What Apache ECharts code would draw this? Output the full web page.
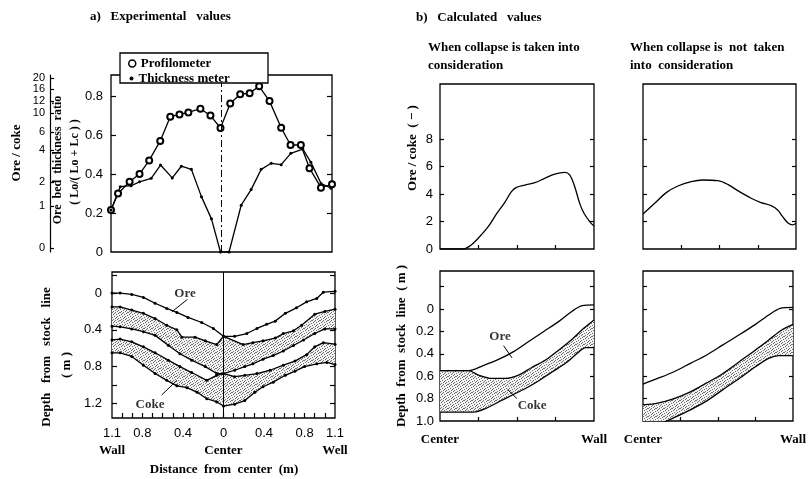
<!DOCTYPE html>
<html><head><meta charset="utf-8">
<script src="https://cdn.jsdelivr.net/npm/echarts@6/dist/echarts.min.js"></script>
<style>html,body{margin:0;padding:0;background:#fff}#c{width:809px;height:479px}</style>
</head><body><div id="c"></div>
<script>
// ---------- a) Experimental values : top panel ----------
const profX = [-1.10,-1.03,-0.915,-0.816,-0.72,-0.61,-0.51,-0.418,-0.33,-0.21,-0.11,-0.01,0.087,0.186,0.28,0.375,0.478,0.594,0.687,0.79,0.876,0.99,1.10];
const profY = [0.215,0.30,0.36,0.40,0.47,0.57,0.694,0.706,0.716,0.735,0.70,0.636,0.762,0.809,0.815,0.85,0.774,0.637,0.549,0.549,0.43,0.33,0.347];
const thickX = [-1.10,-1.008,-0.90,-0.816,-0.70,-0.607,-0.49,-0.40,-0.30,-0.20,-0.10,-0.01,0.075,0.196,0.295,0.395,0.495,0.594,0.69,0.81,0.89,0.99,1.09];
const thickY = [0.215,0.335,0.34,0.36,0.378,0.446,0.38,0.44,0.424,0.284,0.17,0.0,0.0,0.24,0.32,0.424,0.455,0.448,0.506,0.528,0.46,0.352,0.327];
const ratioTicks = [0, 0.2, 0.4, 0.6, 0.8];
const oreCokeTicks = [0, 1, 2, 4, 6, 10, 12, 16, 20];
const oreCokePos = [0.02, 0.236, 0.359, 0.523, 0.615, 0.713, 0.775, 0.836, 0.892];

// ---------- a) Experimental values : burden layers ----------
const L1x = [-1.10,-1.02,-0.905,-0.79,-0.675,-0.56,-0.46,-0.35,-0.215,-0.10,0.0,0.11,0.23,0.33,0.425,0.51,0.61,0.72,0.82,0.92,0.985,1.10];
const L1y = [0.0,0.0,0.014,0.047,0.11,0.167,0.21,0.265,0.32,0.385,0.47,0.47,0.44,0.385,0.34,0.305,0.22,0.16,0.095,0.058,-0.01,-0.02];
const L2x = [-1.10,-1.02,-0.905,-0.79,-0.675,-0.56,-0.46,-0.41,-0.28,-0.18,-0.067,0.0,0.195,0.29,0.39,0.51,0.59,0.69,0.77,0.90,1.0,1.10];
const L2y = [0.15,0.15,0.185,0.22,0.277,0.35,0.40,0.48,0.48,0.52,0.56,0.47,0.56,0.54,0.52,0.49,0.44,0.41,0.35,0.23,0.20,0.175];
const L3x = [-1.10,-1.02,-0.905,-0.79,-0.675,-0.545,-0.43,-0.314,-0.18,-0.067,0.0,0.11,0.21,0.29,0.39,0.49,0.59,0.69,0.79,0.90,1.0,1.10];
const L3y = [0.36,0.367,0.39,0.42,0.46,0.567,0.66,0.73,0.80,0.876,0.876,0.84,0.80,0.77,0.72,0.68,0.63,0.57,0.51,0.44,0.39,0.39];
const L4x = [-1.10,-1.02,-0.905,-0.79,-0.675,-0.545,-0.43,-0.314,-0.165,-0.067,0.0,0.11,0.21,0.33,0.46,0.59,0.705,0.82,0.90,0.985,1.10];
const L4y = [0.51,0.50,0.53,0.585,0.65,0.73,0.80,0.865,0.95,0.895,0.876,0.91,0.895,0.876,0.84,0.785,0.74,0.67,0.585,0.54,0.556];
const L5x = [-1.10,-1.02,-0.905,-0.79,-0.675,-0.56,-0.46,-0.36,-0.26,-0.165,-0.067,0.0,0.11,0.21,0.31,0.39,0.49,0.61,0.705,0.80,0.92,1.02,1.10];
const L5y = [0.65,0.65,0.69,0.785,0.876,0.95,1.01,1.03,1.08,1.15,1.185,1.23,1.21,1.17,1.08,1.02,0.97,0.895,0.85,0.80,0.77,0.755,0.778];
const distLabels = [-1.1, -0.8, -0.4, 0, 0.4, 0.8, 1.1];
const depthLabelsA = [0, 0.4, 0.8, 1.2];

// ---------- b) Calculated values : ore/coke ----------
const colOCx = [0,0.151,0.194,0.248,0.313,0.367,0.421,0.464,0.497,0.551,0.616,0.68,0.745,0.81,0.843,0.875,0.907,0.935,0.972,1.0];
const colOCy = [0,0,0.22,0.78,1.62,2.55,3.39,4.17,4.48,4.65,4.82,5.14,5.45,5.58,5.38,4.53,3.32,2.6,1.99,1.67];
const nocOCx = [0,0.076,0.152,0.228,0.315,0.39,0.49,0.554,0.63,0.707,0.772,0.837,0.88,0.913,0.946,0.978,1.0];
const nocOCy = [2.55,3.32,4.1,4.58,4.9,5.02,4.97,4.7,4.17,3.69,3.37,3.15,2.84,2.35,1.91,1.75,1.87];
const ocLabels = [0, 2, 4, 6, 8];

// ---------- b) Calculated values : layers ----------
const cAx = [0,0.185,0.28,0.38,0.478,0.576,0.674,0.772,0.86,0.924,1.0];
const cAy = [0.55,0.55,0.505,0.45,0.38,0.29,0.20,0.11,0.017,-0.03,-0.037];
const cBx = [0,0.185,0.25,0.337,0.424,0.51,0.598,0.685,0.772,0.86,0.935,1.0];
const cBy = [0.55,0.55,0.59,0.62,0.62,0.59,0.52,0.455,0.365,0.267,0.17,0.097];
const cCx = [0,0.217,0.294,0.38,0.467,0.555,0.642,0.73,0.815,0.892,0.946,1.0];
const cCy = [0.92,0.92,0.89,0.83,0.77,0.71,0.64,0.56,0.485,0.395,0.345,0.345];
const nAx = [0,0.098,0.207,0.316,0.425,0.533,0.642,0.75,0.838,0.914,1.0];
const nAy = [0.67,0.62,0.56,0.485,0.41,0.32,0.23,0.137,0.053,-0.006,-0.015];
const nBx = [0,0.098,0.207,0.316,0.425,0.533,0.642,0.75,0.838,0.925,1.0];
const nBy = [0.856,0.84,0.80,0.74,0.66,0.575,0.47,0.365,0.276,0.187,0.136];
const nCx = [0,0.1,0.207,0.316,0.425,0.533,0.642,0.75,0.838,0.904,1.0];
const nCy = [1.1,1.035,0.97,0.90,0.82,0.72,0.62,0.515,0.44,0.416,0.416];
const depthLabelsB = [0, 0.2, 0.4, 0.6, 0.8, 1.0];

// annotation anchors (data coordinates)
const oreNoteA = {text:'Ore', at:[-0.38, 0.01], lead:[[-0.357,0.069],[-0.51,0.204]]};
const cokeNoteA = {text:'Coke', at:[-0.725, 1.21], lead:[[-0.61,1.11],[-0.46,0.95]]};
const oreNoteB = {text:'Ore', at:[0.39, 0.25], lead:[[0.413,0.327],[0.468,0.437]]};
const cokeNoteB = {text:'Coke', at:[0.598, 0.86], lead:[[0.44,0.72],[0.50,0.80]]};

const SERIF = "'Liberation Serif','DejaVu Serif',serif";
const NUM = "'Liberation Sans Narrow','Liberation Sans',Arial,sans-serif";
const pairs = (xs, ys) => xs.map((x, i) => [x, ys[i]]);

// stipple pattern (irregular fine dots)
const cv = document.createElement('canvas'); cv.width = 8; cv.height = 8;
const cx = cv.getContext('2d');
cx.fillStyle = '#f2f2f2'; cx.fillRect(0,0,8,8);
cx.fillStyle = '#707070';
[[0,0],[3,0],[6,1],[1,2],[4,2],[7,3],[2,4],[5,4],[0,5],[3,6],[6,6],[1,7],[5,7],[7,0],[2,1],[4,5]]
  .forEach(p => cx.fillRect(p[0],p[1],1,1));
const stipple = {image: cv, repeat: 'repeat'};

function axis(gridIndex, min, max, o) {
  o = o || {};
  return {
    type: 'value', gridIndex, min, max, inverse: !!o.inverse, position: o.position,
    splitLine: {show: false},
    axisLine: {show: !!o.line, onZero: false, lineStyle: {color: '#000', width: 1.2}},
    axisTick: {show: !!o.ticks, inside: true, length: o.tickLen || 5, customValues: o.ticks, lineStyle: {color: '#000', width: 1.2}},
    axisLabel: {show: !!o.labels, customValues: o.labels, formatter: o.fmt, margin: o.margin || 8, color: '#000',
      hideOverlap: false, showMinLabel: true, showMaxLabel: true,
      fontFamily: NUM, fontSize: o.fs || 13, lineHeight: o.lh, rich: o.rich}
  };
}
const gridBox = (left, top, width, height) => ({left, top, width, height, show: true, borderColor: '#000', borderWidth: 1.3, backgroundColor: 'transparent'});
const dec1 = v => v === 0 ? '0' : v.toFixed(1);
const boldRich = {b: {fontFamily: SERIF, fontWeight: 'bold', fontSize: 13, color: '#000'}};

const distTicks = []; for (let i = -10; i <= 10; i++) distTicks.push(i / 10);

function lineS(name, xi, yi, xs, ys, extra) {
  return Object.assign({
    name, type: 'line', xAxisIndex: xi, yAxisIndex: yi, data: pairs(xs, ys),
    symbol: 'none', lineStyle: {color: '#000', width: 1.3}, itemStyle: {color: '#000'}, z: 3, animation: false
  }, extra || {});
}
function band(xi, yi, up, lo) {
  return {type: 'custom', xAxisIndex: xi, yAxisIndex: yi, clip: true, silent: true, z: 1, animation: false,
    data: [[0.5, 0.5]],
    renderItem: (p, api) => {
      const pts = up.map(q => api.coord(q)).concat(lo.slice().reverse().map(q => api.coord(q)));
      return {type: 'polygon', shape: {points: pts}, style: {fill: stipple, stroke: null}};
    }};
}
function note(xi, yi, n) {
  return [
    {type: 'line', xAxisIndex: xi, yAxisIndex: yi, data: n.lead, symbol: 'none', silent: true, animation: false,
      lineStyle: {color: '#000', width: 1}, z: 4},
    {type: 'scatter', xAxisIndex: xi, yAxisIndex: yi, data: [n.at], symbolSize: 0, silent: true, animation: false, z: 5,
      label: {show: true, position: 'inside', formatter: n.text, color: '#000', fontFamily: SERIF, fontWeight: 'bold', fontSize: 13}}
  ];
}

const grids = [
  gridBox(111, 75, 221, 177),
  gridBox(112, 272, 223, 146),
  gridBox(440, 84, 154, 165),
  gridBox(643, 84, 153, 165),
  gridBox(440, 271, 154, 150),
  gridBox(643, 271, 153, 150),
  {left: 50, top: 75, width: 1, height: 177, show: false}
];
const quarter = [0.25, 0.5, 0.75];
const xAxes = [
  axis(0, -1.1, 1.1, {}),
  axis(1, -1.1, 1.1, {ticks: distTicks, labels: distLabels, margin: 7, lh: 17, rich: boldRich,
    fmt: v => { const n = Math.abs(v) < 1e-9 ? '0' : Math.abs(v).toFixed(1);
      const w = v < -1.05 ? 'Wall' : (Math.abs(v) < 1e-9 ? 'Center' : (v > 1.05 ? 'Well' : ''));
      return w ? n + '\n{b|' + w + '}' : n; }}),
  axis(2, 0, 1, {ticks: quarter, tickLen: 4}),
  axis(3, 0, 1, {ticks: quarter, tickLen: 4}),
  axis(4, 0, 1, {ticks: quarter, tickLen: 4, labels: [0, 1], margin: 12, rich: boldRich, fmt: v => v === 0 ? '{b|Center}' : '{b|Wall}'}),
  axis(5, 0, 1, {ticks: quarter, tickLen: 4, labels: [0, 1], margin: 12, rich: boldRich, fmt: v => v === 0 ? '{b|Center}' : '{b|Wall}'}),
  Object.assign(axis(6, 0, 1, {}), {show: false})
];
const dTicksA = [-0.2, 0, 0.2, 0.4, 0.6, 0.8, 1.0, 1.2];
const dTicksB = [-0.2, 0, 0.2, 0.4, 0.6, 0.8];
const yAxes = [
  axis(0, 0, 0.908, {position: 'left', ticks: [0.2, 0.4, 0.6, 0.8], labels: ratioTicks, fmt: dec1}),
  axis(0, 0, 0.908, {position: 'right', ticks: [0.2, 0.4, 0.6, 0.8]}),
  axis(6, 0, 0.908, {position: 'left', line: true, ticks: oreCokePos, tickLen: 4, labels: oreCokePos, margin: 5, fs: 11, lh: 11,
    fmt: v => { let bi = 0; oreCokePos.forEach((p, i) => { if (Math.abs(p - v) < Math.abs(oreCokePos[bi] - v)) bi = i; }); return String(oreCokeTicks[bi]); }}),
  axis(1, -0.23, 1.36, {inverse: true, position: 'left', ticks: dTicksA, labels: depthLabelsA, fmt: dec1, margin: 10}),
  axis(1, -0.23, 1.36, {inverse: true, position: 'right', ticks: dTicksA}),
  axis(2, 0, 12, {position: 'left', ticks: [2, 4, 6, 8], tickLen: 4, labels: ocLabels, margin: 7}),
  axis(2, 0, 12, {position: 'right', ticks: [2, 4, 6, 8], tickLen: 4}),
  axis(3, 0, 12, {position: 'left', ticks: [2, 4, 6, 8], tickLen: 4}),
  axis(3, 0, 12, {position: 'right', ticks: [2, 4, 6, 8], tickLen: 4}),
  axis(4, -0.34, 1.0, {inverse: true, position: 'left', ticks: dTicksB, tickLen: 4, labels: depthLabelsB, fmt: dec1, margin: 6}),
  axis(4, -0.34, 1.0, {inverse: true, position: 'right', ticks: dTicksB, tickLen: 4}),
  axis(5, -0.34, 1.0, {inverse: true, position: 'left', ticks: dTicksB, tickLen: 4}),
  axis(5, -0.34, 1.0, {inverse: true, position: 'right', ticks: dTicksB, tickLen: 4})
];

const series = [
  lineS('Profilometer', 0, 0, profX, profY, {symbol: 'emptyCircle', symbolSize: 6, itemStyle: {color: '#000', borderWidth: 1},
    markLine: {silent: true, symbol: 'none', label: {show: false}, animation: false,
      lineStyle: {color: '#000', width: 1, type: [7, 3, 2, 3]}, data: [{xAxis: 0}]}}),
  lineS('Thickness meter', 0, 0, thickX, thickY, {symbol: 'circle', symbolSize: 3}),
  band(1, 3, pairs(L2x, L2y), pairs(L3x, L3y)),
  band(1, 3, pairs(L4x, L4y), pairs(L5x, L5y)),
  lineS('L1', 1, 3, L1x, L1y, {symbol: 'circle', symbolSize: 3,
    markLine: {silent: true, symbol: 'none', label: {show: false}, animation: false,
      lineStyle: {color: '#000', width: 1, type: 'solid'}, data: [{xAxis: 0}]}}),
  lineS('L2', 1, 3, L2x, L2y, {symbol: 'circle', symbolSize: 3}),
  lineS('L3', 1, 3, L3x, L3y, {symbol: 'circle', symbolSize: 3}),
  lineS('L4', 1, 3, L4x, L4y, {symbol: 'circle', symbolSize: 3}),
  lineS('L5', 1, 3, L5x, L5y, {symbol: 'circle', symbolSize: 3}),
  ...note(1, 3, oreNoteA), ...note(1, 3, cokeNoteA),
  lineS('colOC', 2, 5, colOCx, colOCy, {smooth: 0.35}),
  lineS('nocOC', 3, 7, nocOCx, nocOCy, {smooth: 0.35}),
  band(4, 9, pairs(cBx, cBy), pairs(cCx, cCy)),
  lineS('cA', 4, 9, cAx, cAy, {smooth: 0.3}),
  lineS('cB', 4, 9, cBx, cBy, {smooth: 0.3}),
  lineS('cC', 4, 9, cCx, cCy, {smooth: 0.3}),
  ...note(4, 9, oreNoteB), ...note(4, 9, cokeNoteB),
  band(5, 11, pairs(nBx, nBy), pairs(nCx, nCy)),
  lineS('nA', 5, 11, nAx, nAy, {smooth: 0.3}),
  lineS('nB', 5, 11, nBx, nBy, {smooth: 0.3}),
  lineS('nC', 5, 11, nCx, nCy, {smooth: 0.3, clip: true})
];

const tx = (text, x, y, align) => ({type: 'text', x, y, z: 20, silent: true,
  style: {text, fill: '#000', font: 'bold 13px ' + SERIF, textAlign: align || 'left', textVerticalAlign: 'middle'}});
const vtx = (text, x, y, size) => ({type: 'text', x, y, rotation: Math.PI / 2, z: 20, silent: true,
  style: {text, fill: '#000', font: 'bold ' + (size || 13) + 'px ' + SERIF, textAlign: 'center', textVerticalAlign: 'middle'}});

const graphic = [
  tx('a)   Experimental   values', 90, 17),
  tx('b)   Calculated   values', 416, 18),
  tx('When collapse is taken into', 428, 48),
  tx('consideration', 428, 66),
  tx('When collapse is  not  taken', 630, 48),
  tx('into  consideration', 630, 66),
  tx('Distance  from  center  (m)', 224, 470, 'center'),
  vtx('Ore / coke', 17, 153),
  vtx('Ore  bed  thickness  ratio', 58, 160, 12),
  vtx('( Lo/( Lo + Lc ) )', 75, 162, 12),
  vtx('Depth   from   stock   line', 47, 357),
  vtx('( m )', 67, 365),
  vtx('Ore / coke  ( − )', 413, 148),
  vtx('Depth  from  stock  line  ( m )', 402, 346),
  {type: 'rect', shape: {x: 120, y: 53, width: 148, height: 30}, z: 15, silent: true,
    style: {fill: '#fff', stroke: '#000', lineWidth: 1.3}}
];

const legendText = {fontFamily: SERIF, fontWeight: 'bold', fontSize: 13, color: '#000'};
const option = {
  animation: false,
  backgroundColor: '#fff',
  grid: grids, xAxis: xAxes, yAxis: yAxes, series,
  graphic,
  legend: [
    {left: 123, top: 52, z: 30, itemWidth: 7, itemHeight: 7, itemGap: 4, textStyle: legendText, selectedMode: false,
      data: [{name: 'Profilometer', icon: 'circle', itemStyle: {color: '#fff', borderColor: '#000', borderWidth: 1.5}}]},
    {left: 124.5, top: 67, z: 30, itemWidth: 4, itemHeight: 4, itemGap: 4, textStyle: legendText, selectedMode: false,
      data: [{name: 'Thickness meter', icon: 'circle', itemStyle: {color: '#000'}}]}
  ]
};
const chart = echarts.init(document.getElementById('c'), null, {renderer: 'canvas'});
chart.setOption(option);
</script></body></html>
